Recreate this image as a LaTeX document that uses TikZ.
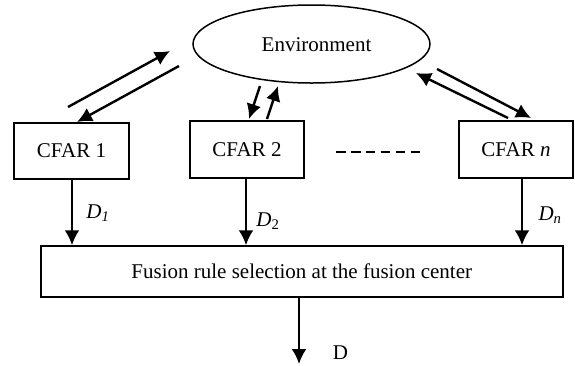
\documentclass[tikz,border=0pt]{standalone}
\usepackage{fontspec}
\setmainfont{Liberation Serif}
\usetikzlibrary{shapes.geometric,arrows.meta}
\begin{document}
\begin{tikzpicture}[x=1pt,y=-1pt,
  font=\fontsize{21}{25}\selectfont,
  box/.style={draw,line width=1.5pt,inner sep=0pt,minimum width=#1},
  flow/.style={line width=2.4pt,-{Latex[length=15pt,width=15pt]}},
  lbl/.style={inner sep=0pt}]
\useasboundingbox (0,0) rectangle (575,365);

% environment
\node[draw,ellipse,line width=1.5pt,minimum width=237pt,minimum height=78pt,inner sep=0pt] (env) at (311.5,44) {};
\node[lbl] (envtxt) at (316.5,45) {Environment};

% detectors
\node[box=115pt,minimum height=56pt] (c1) at (71.5,151) {CFAR 1};
\node[box=114pt,minimum height=57pt] (c2) at (247,149.5) {CFAR 2};
\node[box=114pt,minimum height=57pt] (cn) at (516,149.5) {CFAR \textit{n}};

% fusion center
\node[box=522pt,minimum height=51pt] (fus) at (301.75,271.5) {Fusion rule selection at the fusion center};

% ellipsis between detectors
\coordinate (dl) at (336,152);
\coordinate (dr) at (420,152);
\draw[line width=1.4pt,dash pattern=on 9.6pt off 5.3pt] (dl) -- (dr);

% links between the detectors and the environment
\coordinate (a1s) at (68,107);  \coordinate (a1e) at (170,51);
\coordinate (b1s) at (179,66);  \coordinate (b1e) at (77,122);
\coordinate (a2s) at (260,86);  \coordinate (a2e) at (249,119);
\coordinate (b2s) at (267,119); \coordinate (b2e) at (278,86);
\coordinate (ans) at (508,118); \coordinate (ane) at (416,73);
\coordinate (bns) at (437,69);  \coordinate (bne) at (531,118);
\draw[flow] (a1s) -- (a1e);
\draw[flow] (b1s) -- (b1e);
\draw[flow] (a2s) -- (a2e);
\draw[flow] (b2s) -- (b2e);
\draw[flow] (ans) -- (ane);
\draw[flow] (bns) -- (bne);

% local decisions
\draw[flow] ([xshift=0.5pt]c1.south) -- ([xshift=0.5pt]c1.south |- fus.north);
\draw[flow] ([xshift=-1pt]c2.south) -- ([xshift=-1pt]c2.south |- fus.north);
\draw[flow] ([xshift=6pt]cn.south) -- ([xshift=6pt]cn.south |- fus.north);
\node[lbl] (d1) at (98,213) {\textit{D\textsubscript{1}}};
\node[lbl] (d2) at (268,221) {\textit{D}\textsubscript{2}};
\node[lbl] (dn) at (550,215) {\textit{D\textsubscript{n}}};

% global decision
\coordinate (out) at (299,364);
\draw[flow] (fus.south -| out) -- (out);
\node[lbl] (d) at (340.5,353) {D};
\end{tikzpicture}
\end{document}
